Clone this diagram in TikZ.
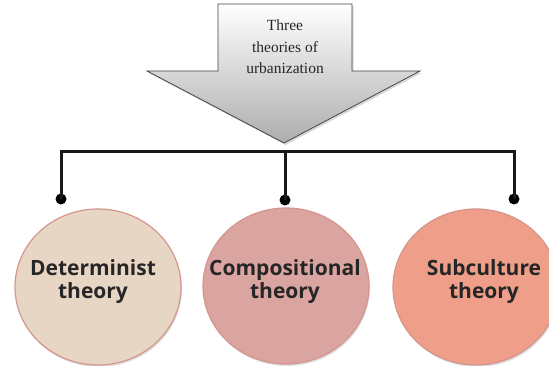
\documentclass[tikz,border=0pt]{standalone}
\usepackage{fontspec}
\setmainfont{Liberation Serif}
\newfontfamily\theoryfont{Open Sans}
\usepackage{xcolor}
\usetikzlibrary{positioning,shapes.geometric,shadows}
\definecolor{detclr}{RGB}{232,214,197}
\definecolor{compclr}{RGB}{218,164,161}
\definecolor{subclr}{RGB}{239,158,138}
\definecolor{rimclr}{RGB}{212,150,140}
\definecolor{arrowedge}{RGB}{70,70,70}
\tikzset{
    theory/.style={ellipse,draw=rimclr,line width=1.2pt,minimum width=166pt,minimum height=156pt,inner sep=0pt,
        drop shadow={opacity=0.25,shadow xshift=1pt,shadow yshift=-2pt}},
    theorytext/.style={font=\theoryfont\bfseries\fontsize{21}{23}\selectfont,align=center,text=black!85,inner sep=0pt},
    knob/.style={circle,fill=black,inner sep=0pt,minimum size=11pt},
    link/.style={line width=3pt,black!90},
    bigarrow/.style={draw=arrowedge,line width=0.8pt,top color=white,bottom color=black!32,
        drop shadow={opacity=0.3,shadow xshift=1.5pt,shadow yshift=-2pt}},
}

\begin{document}
\begin{tikzpicture}[x=1pt,y=-1pt]
\useasboundingbox[fill=white] (0,0) rectangle (549,366);

% downward arrow
\coordinate (tip) at (284,143);
\path[bigarrow] (218,4) -- (352,4) -- (352,71) -- (420,71) -- (tip) -- (147,71) -- (218,71) -- cycle;
\node[align=center,font=\fontsize{15.5}{21.5}\selectfont,text=black!85] (title) at (285,47) {Three\\theories of\\urbanization};

% theories
\node[theory,fill=detclr]  (det)  at (98,287)  {};
\node[theory,fill=compclr] (comp) at (286,286) {};
\node[theory,fill=subclr]  (sub)  at (476,287) {};
\node[theorytext] (detlbl)  at (93,282)  {Determinist\\theory};
\node[theorytext] (complbl) at (285,282) {Compositional\\theory};
\node[theorytext] (sublbl)  at (484,282) {Subculture\\theory};

\node[knob] (k1) at (61,199)  {};
\node[knob] (k2) at (285,200) {};
\node[knob] (k3) at (514,199) {};

\coordinate (hub) at (285,152);
\draw[link] (k1.center) |- (hub) -| (k3.center);
\draw[link] (hub) -- (k2.center);
\end{tikzpicture}
\end{document}
